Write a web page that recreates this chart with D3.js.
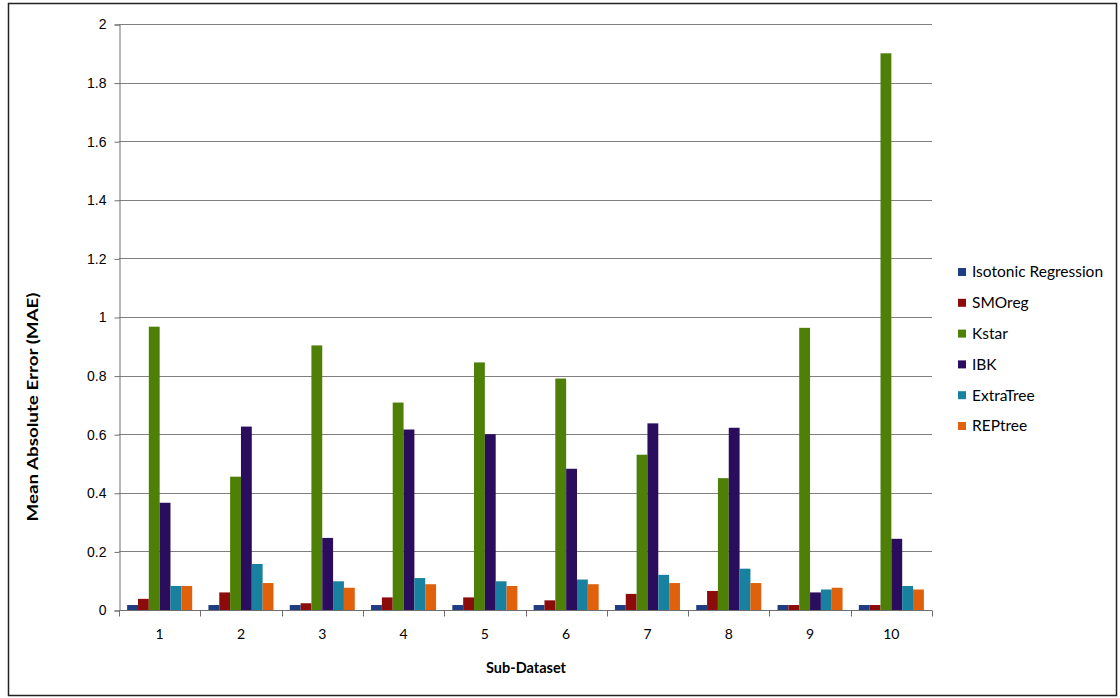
<!DOCTYPE html>
<html>
<head>
<meta charset="utf-8">
<script src="https://cdn.jsdelivr.net/npm/d3@7"></script>
<style>
  html, body { margin: 0; padding: 0; background: #fff; }
  svg { display: block; font-family: "Lato", "Open Sans", sans-serif; }
</style>
</head>
<body>
<svg id="chart" width="1120" height="698"></svg>
<script>
// Sub-dataset categories and per-model MAE values
const subDatasets = ["1", "2", "3", "4", "5", "6", "7", "8", "9", "10"];
const models = ["Isotonic Regression", "SMOreg", "Kstar", "IBK", "ExtraTree", "REPtree"];
const modelColors = ["#1f3d82", "#8c0c0c", "#4e7f06", "#2b0d5e", "#17819f", "#e0600c"];

const isotonicMAE = [0.017, 0.017, 0.017, 0.017, 0.017, 0.017, 0.017, 0.017, 0.017, 0.017];
const smoregMAE   = [0.038, 0.060, 0.023, 0.043, 0.043, 0.033, 0.055, 0.065, 0.017, 0.017];
const kstarMAE    = [0.967, 0.455, 0.903, 0.708, 0.845, 0.790, 0.530, 0.450, 0.963, 1.900];
const ibkMAE      = [0.366, 0.626, 0.246, 0.616, 0.600, 0.482, 0.637, 0.622, 0.060, 0.243];
const extraMAE    = [0.082, 0.157, 0.098, 0.109, 0.098, 0.104, 0.120, 0.141, 0.070, 0.082];
const repMAE      = [0.082, 0.092, 0.076, 0.088, 0.082, 0.088, 0.092, 0.092, 0.076, 0.070];

const seriesValues = [isotonicMAE, smoregMAE, kstarMAE, ibkMAE, extraMAE, repMAE];
const yTicks = [0, 0.2, 0.4, 0.6, 0.8, 1, 1.2, 1.4, 1.6, 1.8, 2];

const svg = d3.select("#chart");

// outer frame
svg.append("rect")
  .attr("x", 8.5).attr("y", 3.5)
  .attr("width", 1108).attr("height", 692)
  .attr("fill", "none").attr("stroke", "#222").attr("stroke-width", 1.5);

const plot = { left: 119, right: 932, top: 24, bottom: 610 };

const x0 = d3.scaleBand().domain(subDatasets).range([plot.left, plot.right]).paddingInner(0).paddingOuter(0);
const x1 = d3.scaleBand().domain(models).range([0, x0.bandwidth()]).paddingInner(0).paddingOuter(0.75);
const y = d3.scaleLinear().domain([0, 2]).range([plot.bottom, plot.top]);

// horizontal gridlines
svg.append("g")
  .selectAll("line")
  .data(yTicks.filter(t => t > 0))
  .join("line")
  .attr("x1", plot.left).attr("x2", plot.right)
  .attr("y1", d => Math.round(y(d)) + 0.5).attr("y2", d => Math.round(y(d)) + 0.5)
  .attr("stroke", "#7f7f7f").attr("stroke-width", 1);

// bars
const groups = svg.append("g")
  .selectAll("g")
  .data(subDatasets)
  .join("g")
  .attr("transform", d => `translate(${x0(d)},0)`);

groups.selectAll("rect")
  .data((d, i) => models.map((m, k) => ({ model: m, value: seriesValues[k][i], color: modelColors[k] })))
  .join("rect")
  .attr("x", d => x1(d.model))
  .attr("width", x1.bandwidth())
  .attr("y", d => y(d.value))
  .attr("height", d => y(0) - y(d.value))
  .attr("fill", d => d.color);

// y axis
const yAxis = d3.axisLeft(y).tickValues(yTicks).tickSize(5).tickPadding(8)
  .tickFormat(d => d3.format("~g")(d));
const gy = svg.append("g").attr("transform", `translate(${plot.left + 0.5},0.5)`).call(yAxis);
gy.select(".domain").attr("stroke", "#6f6f6f");
gy.selectAll(".tick line").attr("stroke", "#6f6f6f");
gy.selectAll(".tick text").attr("font-size", 14).attr("fill", "#000");

// x axis with ticks at category boundaries
const gx = svg.append("g").attr("transform", `translate(0,${plot.bottom + 0.5})`);
gx.append("line").attr("x1", plot.left).attr("x2", plot.right).attr("stroke", "#6f6f6f");
gx.selectAll("line.tk")
  .data(subDatasets.map(d => x0(d)).concat([plot.right]))
  .join("line").attr("class", "tk")
  .attr("x1", d => Math.round(d) + 0.5).attr("x2", d => Math.round(d) + 0.5)
  .attr("y1", 0).attr("y2", 6)
  .attr("stroke", "#6f6f6f");
gx.selectAll("text")
  .data(subDatasets)
  .join("text")
  .attr("x", d => x0(d) + x0.bandwidth() / 2)
  .attr("y", 28)
  .attr("text-anchor", "middle")
  .attr("font-size", 14)
  .attr("fill", "#000")
  .text(d => d);

// axis titles
svg.append("text")
  .attr("x", 526)
  .attr("y", 673)
  .attr("text-anchor", "middle")
  .attr("font-size", 14.5).attr("font-weight", "bold").attr("fill", "#000")
  .text("Sub-Dataset");

svg.append("text")
  .attr("transform", "translate(38,407) rotate(-90)")
  .attr("text-anchor", "middle")
  .attr("font-size", 15).attr("font-weight", "bold").attr("fill", "#000")
  .attr("textLength", 229).attr("lengthAdjust", "spacingAndGlyphs")
  .text("Mean Absolute Error (MAE)");

// legend
const legend = svg.append("g")
  .selectAll("g")
  .data(models)
  .join("g")
  .attr("transform", (d, i) => `translate(958,${272 + i * 30.8})`);
legend.append("rect")
  .attr("x", 0).attr("y", -4).attr("width", 8).attr("height", 8)
  .attr("fill", (d, i) => modelColors[i]);
legend.append("text")
  .attr("x", 14).attr("y", 0).attr("dy", "0.35em")
  .attr("font-size", 15.5).attr("fill", "#000")
  .text(d => d);
</script>
</body>
</html>
